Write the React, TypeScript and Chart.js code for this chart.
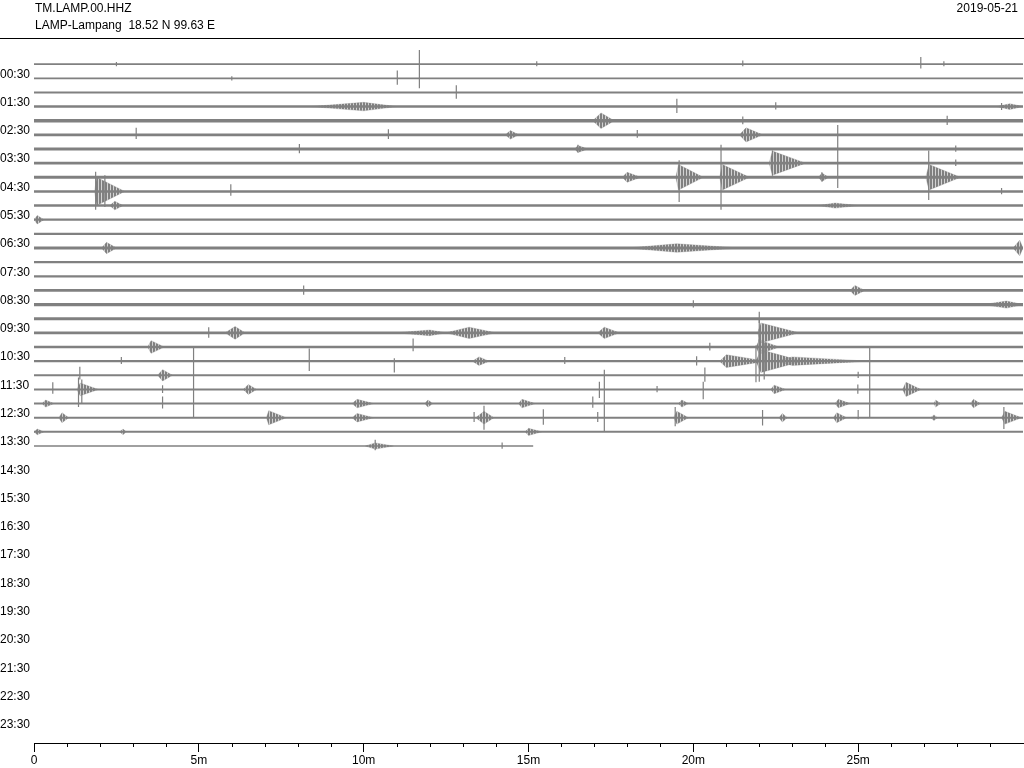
import React, { useEffect, useRef } from 'react';
import { Chart, registerables } from 'chart.js';

Chart.register(...registerables);

// ---------- header text ----------
const STATION_CODE = 'TM.LAMP.00.HHZ';
const STATION_NAME = 'LAMP-Lampang  18.52 N 99.63 E';
const DATE_LABEL = '2019-05-21';

// ---------- axes ----------
const ROW_LABELS = [
  '00:30', '01:30', '02:30', '03:30', '04:30', '05:30', '06:30', '07:30',
  '08:30', '09:30', '10:30', '11:30', '12:30', '13:30', '14:30', '15:30',
  '16:30', '17:30', '18:30', '19:30', '20:30', '21:30', '22:30', '23:30',
];
const X_MAJOR_LABELS = ['0', '5m', '10m', '15m', '20m', '25m'];
const MINUTES_PER_LINE = 30;
const TOTAL_LINES = 48;

// ---------- traces (one per 30 minutes, 00:00 .. 13:30) ----------
// minutes of data recorded on each line
const TRACE_END = [
  30, 30, 30, 30, 30, 30, 30, 30, 30, 30, 30, 30, 30, 30,
  30, 30, 30, 30, 30, 30, 30, 30, 30, 30, 30, 30, 30, 15.15,
];
// background noise half-amplitude (in line spacings)
const NOISE = [
  0.06, 0.06, 0.07, 0.09, 0.12, 0.09, 0.1, 0.09, 0.1, 0.09, 0.09, 0.08, 0.08, 0.1,
  0.08, 0.08, 0.1, 0.11, 0.1, 0.1, 0.08, 0.08, 0.07, 0.07, 0.07, 0.07, 0.07, 0.06,
];
// single spikes: [line, minute, amplitude up, amplitude down]
const SPIKES: number[][] = [
  [0, 11.69, 1.0, 1.7], [0, 26.9, 0.5, 0.3], [0, 15.25, 0.2, 0.15], [0, 21.5, 0.25, 0.15],
  [0, 2.5, 0.15, 0.15], [0, 27.6, 0.2, 0.15],
  [1, 11.02, 0.55, 0.45], [1, 6.0, 0.15, 0.15],
  [2, 12.81, 0.5, 0.45],
  [3, 19.5, 0.55, 0.45], [3, 22.5, 0.3, 0.2], [3, 29.35, 0.25, 0.25],
  [4, 27.7, 0.35, 0.3], [4, 21.5, 0.3, 0.25],
  [5, 3.1, 0.5, 0.3], [5, 10.75, 0.4, 0.3], [5, 18.3, 0.35, 0.2], [5, 24.38, 0.7, 3.75],
  [6, 8.05, 0.35, 0.3], [6, 16.5, 0.3, 0.25], [6, 27.96, 0.25, 0.2],
  [7, 27.96, 0.25, 0.2], [7, 22.4, 0.9, 0.9],
  [8, 19.57, 1.2, 1.75], [8, 20.84, 2.3, 2.3], [8, 27.14, 1.9, 1.6], [8, 23.9, 0.35, 0.3],
  [9, 1.87, 1.4, 1.3], [9, 2.15, 1.15, 1.1], [9, 5.97, 0.5, 0.3], [9, 29.35, 0.25, 0.2],
  [16, 8.18, 0.35, 0.3],
  [17, 20.0, 0.3, 0.2],
  [18, 22.0, 0.5, 0.3],
  [19, 5.3, 0.4, 0.35], [19, 22.0, 0.95, 0.6],
  [20, 22.0, 1.25, 1.0], [20, 11.5, 0.6, 0.3], [20, 20.5, 0.3, 0.25],
  [21, 4.84, 1.0, 3.95], [21, 25.35, 1.0, 3.95], [21, 22.0, 1.55, 1.45], [21, 22.15, 1.3, 1.3],
  [21, 21.9, 1.1, 1.5], [21, 8.35, 0.9, 0.7], [21, 10.93, 0.2, 0.8], [21, 2.65, 0.3, 0.2],
  [21, 16.1, 0.3, 0.2], [21, 20.1, 0.35, 0.3],
  [22, 1.39, 0.6, 0.3], [22, 3.9, 0.3, 0.3], [22, 20.35, 0.55, 0.45], [22, 25.0, 0.25, 0.2],
  [23, 0.57, 0.5, 0.3], [23, 1.35, 0.85, 1.25], [23, 1.45, 0.7, 1.0], [23, 3.9, 0.3, 0.25],
  [23, 17.15, 0.55, 0.6], [23, 20.3, 0.55, 0.7], [23, 24.99, 0.35, 0.3], [23, 18.9, 0.25, 0.2],
  [24, 3.9, 0.5, 0.35], [24, 16.95, 0.5, 0.3], [24, 17.3, 2.4, 2.0],
  [25, 13.35, 0.4, 0.3], [25, 13.65, 0.85, 0.85], [25, 15.45, 0.6, 0.5], [25, 17.1, 0.4, 0.3],
  [25, 19.45, 0.75, 0.6], [25, 22.1, 0.55, 0.55], [25, 25.0, 0.55, 0.1], [25, 29.42, 0.75, 0.8],
  [27, 10.35, 0.45, 0.3], [27, 14.2, 0.25, 0.2],
];
// wave packets: [line, onset minute, peak minute, end minute, peak amplitude]
const PACKETS: number[][] = [
  [3, 8.4, 10.0, 11.0, 0.3], [3, 29.2, 29.6, 30, 0.2],
  [4, 16.95, 17.2, 17.6, 0.55],
  [5, 21.4, 21.6, 22.1, 0.5], [5, 14.3, 14.45, 14.7, 0.3],
  [6, 16.4, 16.5, 16.8, 0.25],
  [7, 22.3, 22.4, 23.4, 0.85],
  [8, 17.85, 17.99, 18.4, 0.35], [8, 19.47, 19.55, 20.3, 0.9], [8, 20.8, 20.88, 21.7, 0.9],
  [8, 27.05, 27.15, 28.1, 0.9], [8, 23.8, 23.9, 24.1, 0.3],
  [9, 1.84, 1.9, 2.75, 1.0],
  [10, 2.3, 2.45, 2.7, 0.3], [10, 23.8, 24.3, 25.0, 0.18],
  [11, 0.0, 0.1, 0.3, 0.3],
  [13, 2.05, 2.2, 2.5, 0.4], [13, 18.0, 19.5, 21.4, 0.3], [13, 29.7, 29.9, 30, 0.55],
  [16, 24.75, 24.9, 25.2, 0.35],
  [17, 28.8, 29.5, 30, 0.25],
  [19, 5.8, 6.1, 6.4, 0.45], [19, 12.5, 13.2, 14.0, 0.4], [19, 17.1, 17.3, 17.75, 0.4],
  [19, 21.95, 22.05, 23.2, 0.7], [19, 11.0, 12.0, 12.5, 0.2],
  [20, 3.45, 3.55, 3.95, 0.45], [20, 21.9, 22.0, 22.6, 0.5],
  [21, 20.8, 21.0, 22.2, 0.45], [21, 21.9, 22.05, 23.3, 0.8], [21, 22.5, 23.0, 25.3, 0.3],
  [21, 13.3, 13.5, 13.8, 0.3],
  [22, 3.75, 3.9, 4.2, 0.4],
  [23, 1.3, 1.4, 1.95, 0.45], [23, 6.35, 6.5, 6.75, 0.35], [23, 22.35, 22.45, 22.8, 0.3],
  [23, 26.35, 26.45, 26.9, 0.5],
  [24, 0.25, 0.35, 0.6, 0.25], [24, 9.65, 9.8, 10.3, 0.3], [24, 11.85, 11.95, 12.1, 0.25],
  [24, 14.7, 14.8, 15.2, 0.3], [24, 19.55, 19.65, 19.85, 0.25], [24, 24.3, 24.4, 24.75, 0.3],
  [24, 27.3, 27.35, 27.5, 0.25], [24, 28.4, 28.5, 28.7, 0.3],
  [25, 0.75, 0.85, 1.05, 0.35], [25, 7.05, 7.12, 7.65, 0.5], [25, 9.65, 9.8, 10.3, 0.3],
  [25, 13.4, 13.65, 13.95, 0.45], [25, 19.4, 19.5, 19.85, 0.45], [25, 22.6, 22.7, 22.85, 0.3],
  [25, 24.25, 24.35, 24.65, 0.35], [25, 27.2, 27.3, 27.4, 0.2], [25, 29.35, 29.45, 29.95, 0.45],
  [26, 0.0, 0.1, 0.3, 0.2], [26, 14.9, 15.0, 15.4, 0.25], [26, 2.6, 2.7, 2.8, 0.2],
  [27, 10.05, 10.35, 10.9, 0.22],
];

const TRACE_COLOR = '#808080';
const FONT_FAMILY = '"Liberation Sans", Arial, Helvetica, sans-serif';

// vertical striation pattern that mimics dense oscillations inside a wave packet
function makeStripePattern(): CanvasPattern | string {
  const c = document.createElement('canvas');
  c.width = 3;
  c.height = 1;
  const g = c.getContext('2d');
  if (!g) return TRACE_COLOR;
  g.fillStyle = TRACE_COLOR;
  g.fillRect(0, 0, 2, 1);
  g.fillStyle = 'rgba(128,128,128,0.35)';
  g.fillRect(2, 0, 1, 1);
  return g.createPattern(c, 'repeat') || TRACE_COLOR;
}

function buildDatasets(stripes: CanvasPattern | string) {
  const datasets: any[] = [];
  // noise bands
  TRACE_END.forEach((end, r) => {
    const n = NOISE[r];
    datasets.push({
      data: [{ x: 0, y: r - n }, { x: end, y: r - n }],
      borderColor: 'rgba(0,0,0,0)',
      borderWidth: 0,
      backgroundColor: TRACE_COLOR,
      fill: { value: r + n },
      pointRadius: 0,
    });
  });
  // packets
  PACKETS.forEach(([r, s, p, e, a]) => {
    [-a, a].forEach((amp) => {
      datasets.push({
        data: [{ x: s, y: r }, { x: p, y: r + amp }, { x: e, y: r }],
        borderColor: 'rgba(128,128,128,0.5)',
        borderWidth: 0.6,
        backgroundColor: stripes,
        fill: { value: r },
        pointRadius: 0,
      });
    });
  });
  // spikes
  TRACE_END.forEach((_, r) => {
    const pts: any[] = [];
    SPIKES.filter((s) => s[0] === r).forEach(([, t, up, dn]) => {
      pts.push({ x: t, y: r - up }, { x: t, y: r + dn }, { x: t, y: null });
    });
    if (pts.length) {
      datasets.push({
        data: pts,
        borderColor: TRACE_COLOR,
        borderWidth: 1.2,
        spanGaps: false,
        fill: false,
        pointRadius: 0,
      });
    }
  });
  return datasets;
}

const decorPlugin = {
  id: 'decor',
  afterDraw(chart: any) {
    const ctx = chart.ctx;
    ctx.save();
    ctx.fillStyle = '#000';
    ctx.font = `12px ${FONT_FAMILY}`;
    ctx.textBaseline = 'middle';
    ctx.textAlign = 'left';
    ctx.fillText(STATION_CODE, 35, 9);
    ctx.fillText(STATION_NAME, 35, 26);
    ctx.textAlign = 'right';
    ctx.fillText(DATE_LABEL, 1018, 9);
    ctx.strokeStyle = '#000';
    ctx.lineWidth = 1;
    ctx.beginPath();
    ctx.moveTo(0, 38.5);
    ctx.lineTo(chart.width, 38.5);
    ctx.stroke();
    // minor minute ticks
    const xs = chart.scales.x;
    const top = Math.round(xs.top);
    ctx.beginPath();
    for (let m = 1; m < MINUTES_PER_LINE; m++) {
      if (m % 5 === 0) continue;
      const px = Math.round(xs.getPixelForValue(m)) + 0.5;
      ctx.moveTo(px, top);
      ctx.lineTo(px, top + 4);
    }
    ctx.stroke();
    ctx.restore();
  },
};

export default function App() {
  const canvasRef = useRef<HTMLCanvasElement | null>(null);

  useEffect(() => {
    if (!canvasRef.current) return;
    const chart = new Chart(canvasRef.current, {
      type: 'line',
      data: { datasets: buildDatasets(makeStripePattern()) },
      options: {
        responsive: false,
        animation: false,
        events: [],
        layout: { padding: { top: 50, left: 0, right: 0, bottom: 0 } },
        elements: { point: { radius: 0 }, line: { tension: 0 } },
        plugins: { legend: { display: false }, tooltip: { enabled: false } },
        scales: {
          x: {
            type: 'linear',
            min: 0,
            max: MINUTES_PER_LINE,
            afterFit: (s: any) => { s.height = 25; },
            border: { display: true, color: '#000', width: 1 },
            grid: {
              display: true,
              drawOnChartArea: false,
              drawTicks: true,
              tickLength: 9,
              tickWidth: 1,
              tickColor: (c: any) =>
                c.tick && c.tick.value % 5 === 0 && c.tick.value < MINUTES_PER_LINE ? '#000' : 'rgba(0,0,0,0)',
            },
            ticks: {
              stepSize: 1,
              autoSkip: false,
              maxRotation: 0,
              padding: 1,
              color: '#000',
              font: { family: FONT_FAMILY, size: 12 },
              callback: (v: any) => (v % 5 === 0 ? X_MAJOR_LABELS[v / 5] ?? '' : ''),
            },
          },
          y: {
            type: 'linear',
            min: -1,
            max: TOTAL_LINES,
            reverse: true,
            afterFit: (s: any) => { s.width = 34; },
            afterBuildTicks: (s: any) => {
              s.ticks = ROW_LABELS.map((_, i) => ({ value: 2 * i + 1 }));
            },
            border: { display: false },
            grid: { display: false },
            ticks: {
              autoSkip: false,
              crossAlign: 'far',
              labelOffset: -4,
              color: '#000',
              font: { family: FONT_FAMILY, size: 12 },
              callback: (v: any) => ROW_LABELS[(v - 1) / 2] ?? '',
            },
          },
        },
      } as any,
      plugins: [decorPlugin],
    });
    return () => chart.destroy();
  }, []);

  return (
    <div style={{ position: 'fixed', left: 0, top: 0, width: 1024, height: 768, background: '#fff' }}>
      <canvas ref={canvasRef} width={1024} height={768} style={{ display: 'block' }} />
    </div>
  );
}
